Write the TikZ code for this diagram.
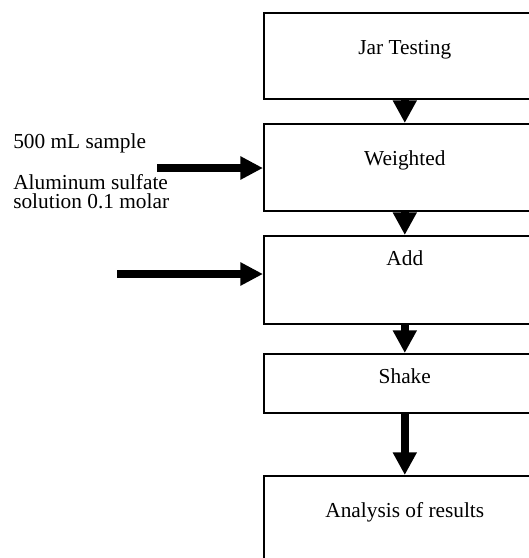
\documentclass[tikz,border=0pt]{standalone}
\usepackage{fontspec}
\setmainfont{Liberation Serif}
\usetikzlibrary{arrows.meta}
\tikzset{
  every node/.style={font=\fontsize{16}{14}\selectfont,inner sep=0pt},
  stage/.style={draw,line width=1.2pt,anchor=north west,minimum width=211.5pt,
                text height=31.5pt},
  stagelow/.style={text height=22.5pt},
  down/.style={-{Triangle[length=17pt,width=17pt]},line width=6pt},
  feed/.style={-{Triangle[length=17pt,width=16.5pt]},line width=5.5pt},
}

\begin{document}
\begin{tikzpicture}[x=.75pt,y=-.75pt]   % one unit per pixel, y down
\path[use as bounding box] (0,0) rectangle (529,558);

% the stages, stacked top to bottom
\node[stage,text depth=33pt] (jar) at (263,12) {Jar Testing};
\node[stage,text depth=33.75pt] (weigh) at (263,123) {Weighted};
\node[stage,stagelow,text depth=43.5pt] (add) at (263,235) {Add};
\node[stage,stagelow,text depth=21.75pt] (shake) at (263,353) {Shake};
\node[stage,text depth=45pt] (result) at (263,475) {Analysis of results};

\draw[down] (jar) -- (weigh);
\draw[down] (weigh) -- (add);
\draw[down] (add) -- (shake);
\draw[down] (shake) -- (result);

% what goes in from the side (base of a two-line node is its last line)
\node[anchor=base west] (samplelab) at (13,148) {500 mL sample};
\node[anchor=base west,align=left] (alumlab) at (13,208.5)
     {Aluminum sulfate\\solution 0.1 molar};
\coordinate (sample) at (157,168);
\coordinate (alum) at (117,274);
\draw[feed] (sample) -- (sample -| weigh.west);
\draw[feed] (alum) -- (alum -| add.west);
\end{tikzpicture}
\end{document}
